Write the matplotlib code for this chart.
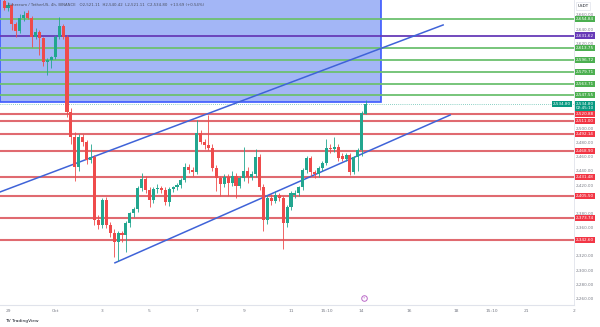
import matplotlib
matplotlib.use("Agg")
import matplotlib.pyplot as plt
import matplotlib.transforms as mtransforms
from matplotlib.patches import Rectangle

# 4h candles, index 0 = 29 Sep 00:00
idx = list(range(-1, 92))
opens = [2680, 2671, 2674, 2648, 2638, 2657, 2664, 2657, 2630, 2637, 2628, 2594, 2597, 2601, 2630, 2645,
         2630, 2524, 2488, 2446, 2488, 2481, 2456, 2460, 2371, 2364, 2400, 2364, 2353, 2340, 2353, 2350,
         2367, 2381, 2387, 2417, 2429, 2414, 2400, 2415, 2417, 2414, 2397, 2415, 2418, 2421, 2428, 2446,
         2442, 2439, 2494, 2481, 2477, 2473, 2445, 2430, 2422, 2432, 2424, 2434, 2420, 2430, 2441, 2432,
         2436, 2460, 2418, 2371, 2402, 2398, 2406, 2402, 2367, 2390, 2406, 2409, 2418, 2442, 2459, 2439,
         2436, 2445, 2452, 2473, 2471, 2475, 2461, 2458, 2463, 2439, 2460, 2470, 2521.11]
highs = [2686, 2679, 2678, 2651, 2662, 2666, 2668, 2659, 2642, 2640, 2630, 2600, 2603, 2632, 2658, 2648,
         2633, 2530, 2495, 2492, 2492, 2484, 2478, 2463, 2378, 2403, 2404, 2368, 2358, 2356, 2356, 2370,
         2383, 2390, 2420, 2437, 2433, 2418, 2418, 2422, 2420, 2418, 2418, 2420, 2424, 2431, 2452, 2450,
         2446, 2512, 2498, 2486, 2519, 2478, 2449, 2434, 2436, 2436, 2440, 2438, 2433, 2474, 2446, 2440,
         2472, 2464, 2422, 2406, 2408, 2412, 2409, 2405, 2392, 2412, 2414, 2420, 2445, 2462, 2462, 2442,
         2448, 2455, 2485, 2478, 2488, 2479, 2466, 2466, 2466, 2462, 2473, 2525, 2540.42]
lows = [2668, 2666, 2640, 2630, 2635, 2652, 2655, 2615, 2627, 2604, 2588, 2576, 2586, 2598, 2627, 2627,
        2516, 2478, 2427, 2440, 2476, 2450, 2452, 2365, 2358, 2360, 2360, 2348, 2319, 2314, 2340, 2326,
        2362, 2376, 2383, 2412, 2410, 2390, 2395, 2410, 2410, 2393, 2391, 2411, 2414, 2417, 2425, 2438,
        2434, 2436, 2478, 2472, 2470, 2440, 2412, 2405, 2418, 2405, 2420, 2402, 2416, 2426, 2424, 2428,
        2432, 2414, 2356, 2366, 2393, 2395, 2398, 2331, 2362, 2386, 2403, 2405, 2414, 2438, 2434, 2430,
        2432, 2441, 2449, 2466, 2468, 2455, 2454, 2454, 2435, 2436, 2440, 2462, 2521.11]
closes = [2671, 2674, 2648, 2638, 2657, 2661, 2657, 2630, 2637, 2628, 2594, 2597, 2601, 2630, 2645, 2630,
          2524, 2488, 2446, 2488, 2481, 2456, 2460, 2371, 2364, 2400, 2364, 2353, 2340, 2353, 2350, 2367,
          2381, 2387, 2417, 2429, 2414, 2400, 2415, 2417, 2414, 2397, 2415, 2418, 2421, 2428, 2446, 2442,
          2439, 2494, 2481, 2477, 2473, 2445, 2430, 2422, 2432, 2424, 2434, 2420, 2430, 2441, 2432, 2436,
          2460, 2418, 2371, 2402, 2398, 2406, 2402, 2367, 2390, 2409, 2409, 2418, 2442, 2459, 2439, 2436,
          2445, 2452, 2473, 2471, 2475, 2459, 2458, 2463, 2439, 2460, 2470, 2522, 2534.80]

green_levels = [2654.84, 2613.75, 2596.72, 2579.71, 2563.71, 2547.55]
purple_levels = [2631.62]
red_levels = [2520.88, 2511.00, 2492.14, 2468.90, 2431.48, 2405.50, 2373.74, 2342.60]
last_price = 2534.80

upper_line = ([-2.0, 110.7], [2411, 2646.5])
lower_line = ([27.2, 112.5], [2311, 2519.5])
box_x = (-2.1, 94.9)
box_y = (2538, 2700)

xtick_pos = [0, 12, 24, 36, 48, 60, 72, 81, 90, 102, 114, 123, 132, 144]
xtick_lab = ["29", "Oct", "3", "5", "7", "9", "11", "15:10", "14", "16", "18", "15:10", "21", "2"]
ytick_vals = [2660, 2640, 2620, 2500, 2480, 2460, 2440, 2420, 2380, 2360, 2320, 2300, 2280, 2260]

GREEN = "#22a68f"
RED = "#ef4b4b"
LVL_GREEN = "#6cc070"
LVL_RED = "#e06a70"
PURPLE = "#673ab7"

fig = plt.figure(figsize=(6.0, 3.27), dpi=100)
ax = fig.add_axes([0.0, 22/327, 574/600, 1 - 22/327])
ax.set_xlim(-2.04, 144.0)
ax.set_ylim(2251.5, 2681.7)

ax.add_patch(Rectangle((box_x[0], box_y[0]), box_x[1]-box_x[0], box_y[1]-box_y[0],
                       facecolor="#a3b6f6", edgecolor="#3d5afe", lw=1.2, zorder=1))

for lv in green_levels:
    ax.axhline(lv, color=LVL_GREEN, lw=1.3, zorder=2)
for lv in purple_levels:
    ax.axhline(lv, color=PURPLE, lw=1.3, zorder=2)
for lv in red_levels:
    ax.axhline(lv, color=LVL_RED, lw=1.5, zorder=2)

ax.axhline(last_price, color=GREEN, lw=0.5, ls=(0, (1, 2)), zorder=2)

ax.plot(*upper_line, color="#3f63d8", lw=1.1, zorder=3)
ax.plot(*lower_line, color="#3f63d8", lw=1.1, zorder=3)

for i, o, h, l, c in zip(idx, opens, highs, lows, closes):
    col = GREEN if c >= o else RED
    ax.vlines(i, l, h, color=col, lw=0.6, zorder=4)
    ax.bar(i, max(abs(c - o), 1.0), bottom=min(o, c), width=0.78, color=col, lw=0, zorder=5)

for s in ax.spines.values():
    s.set_visible(False)
ax.set_xticks([])
ax.set_yticks([])

# bottom axis
ax.axhline(2251.5, color="#e0e3eb", lw=0.8, clip_on=False)
xtr = mtransforms.blended_transform_factory(ax.transData, ax.transAxes)
for p, t in zip(xtick_pos, xtick_lab):
    ax.text(p, -0.021, t, transform=xtr, ha="center", va="center",
            fontsize=3.2, color="#787b86", clip_on=False)

# right price axis
tr = mtransforms.blended_transform_factory(fig.transFigure, ax.transData)
fig.add_artist(plt.Line2D([574/600, 574/600], [22/327, 1], color="#e0e3eb", lw=0.6))
for v in ytick_vals:
    ax.text(585/600, v, f"{v:,.2f}", transform=tr, ha="center", va="center",
            fontsize=3.0, color="#787b86", clip_on=False)

def price_box(v, col, txt=None):
    ax.text(585/600, v, txt or f"{v:,.2f}", transform=tr, ha="center", va="center",
            fontsize=3.0, color="white", clip_on=False,
            bbox=dict(boxstyle="square,pad=0.25", fc=col, ec="none"))

for lv in green_levels:
    price_box(lv, "#4caf50")
for lv in purple_levels:
    price_box(lv, PURPLE)
for lv in red_levels:
    price_box(lv, "#f23645")
price_box(last_price - 2.5, "#089981", f"{last_price:,.2f}\n02:45:10")
ax.text(562/600, last_price, f"{last_price:,.2f}", transform=tr, ha="center", va="center",
        fontsize=3.0, color="white", clip_on=False,
        bbox=dict(boxstyle="square,pad=0.25", fc="#089981", ec="none"))
fig.text(583/600, 1 - 6/327, "USDT", ha="center", va="center", fontsize=3.0, color="#131722",
         bbox=dict(boxstyle="square,pad=0.4", fc="white", ec="#e0e3eb", lw=0.5))

# header
fig.text(8/600, 1 - 5/327,
         "Ethereum / TetherUS, 4h, BINANCE   O2,521.11  H2,540.42  L2,521.11  C2,534.80  +13.69 (+0.54%)",
         ha="left", va="center", fontsize=2.8, color="#4a4f5e")

# event marker
ax.plot([90.6], [2262], marker="o", ms=4, mfc="white", mec="#ba68c8", mew=0.7, zorder=6, clip_on=False)
ax.text(90.6, 2262, "\u26a1", ha="center", va="center", fontsize=2.5, color="#ba68c8", zorder=7)

fig.text(5/600, 1 - 321/327, "TV TradingView", ha="left", va="center", fontsize=3.2, color="#131722")

fig.savefig("out.png", dpi=100)
